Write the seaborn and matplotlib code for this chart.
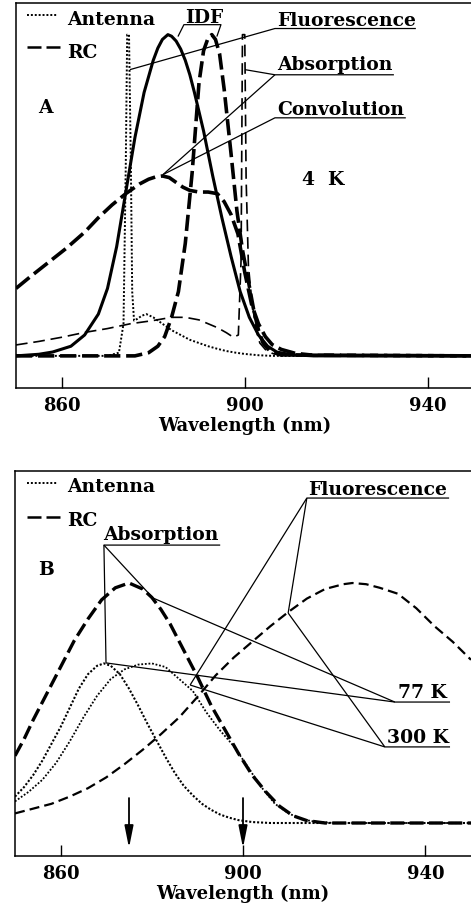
import matplotlib
matplotlib.use("Agg")
import matplotlib.pyplot as plt
import seaborn as sns

sns.set_style("ticks")
plt.rcParams["font.family"] = ["DejaVu Serif"]
plt.rcParams["font.weight"] = "bold"
plt.rcParams["axes.labelweight"] = "bold"
plt.rcParams["text.color"] = "black"
plt.rcParams["axes.labelcolor"] = "black"
plt.rcParams["xtick.color"] = "black"
plt.rcParams["xtick.labelcolor"] = "black"

# ---------------- Panel A (4 K) ----------------
a_ant_wl = [850, 860, 870, 872.5, 873.5, 874.0, 874.3, 874.7, 875.1, 875.4, 875.8, 876.5,
            877.5, 878.5, 880, 882, 884, 886, 888, 890, 892, 894, 896, 898, 900, 903, 906, 950]
a_ant = [0, 0, 0, 0.01, 0.1, 0.6, 1.0, 1.0, 0.6, 0.2, 0.11, 0.115,
         0.125, 0.13, 0.12, 0.1, 0.08, 0.065, 0.05, 0.04, 0.03, 0.022, 0.015, 0.01, 0.006, 0.002, 0, 0]

a_rc_wl = [850, 855, 860, 865, 870, 875, 880, 884, 887, 890, 892, 894, 896, 897.5, 898.6,
           899.2, 899.5, 900.0, 900.3, 900.8, 901.6, 902.5, 903.3, 904.5, 906, 908, 950]
a_rc = [0.034, 0.045, 0.058, 0.073, 0.085, 0.1, 0.11, 0.12, 0.12, 0.112, 0.1, 0.088, 0.072, 0.058, 0.065,
        0.3, 1.0, 1.0, 0.55, 0.28, 0.165, 0.08, 0.04, 0.02, 0.008, 0, 0]

a_idf_ant_wl = [850, 855, 858, 862, 865, 868, 870, 872, 874, 876, 878, 880, 881, 882, 883.2, 884,
                885, 886, 887, 888, 889, 891, 893, 895, 897, 899, 901, 903, 905, 907, 910, 915, 950]
a_idf_ant = [0, 0.005, 0.012, 0.03, 0.065, 0.13, 0.21, 0.34, 0.51, 0.68, 0.82, 0.92, 0.958, 0.985, 1.0, 0.995,
             0.98, 0.955, 0.92, 0.875, 0.82, 0.70, 0.56, 0.43, 0.31, 0.2, 0.12, 0.065, 0.03, 0.012, 0.004, 0, 0]

a_idf_rc_wl = [850, 876, 879, 881, 882.5, 884, 885.5, 887, 888.5, 890, 891, 892, 892.8, 893.6, 894.5,
               895.5, 897, 898.3, 899.5, 900.7, 902, 903, 904, 905.5, 908, 950]
a_idf_rc = [0, 0, 0.01, 0.03, 0.06, 0.12, 0.2, 0.35, 0.57, 0.85, 0.95, 0.99, 1.0, 0.985, 0.94,
            0.83, 0.63, 0.45, 0.33, 0.24, 0.14, 0.08, 0.04, 0.015, 0.003, 0]

a_conv_wl = [850, 853, 857, 861, 865, 868, 871, 874, 877, 879, 880.5, 882, 883.5, 885, 886.5, 888,
             890, 892, 894, 895.5, 897, 898.5, 900, 901.5, 903, 904.5, 906, 908, 911, 915, 950]
a_conv = [0.21, 0.245, 0.29, 0.335, 0.385, 0.43, 0.47, 0.505, 0.535, 0.55, 0.557, 0.56, 0.555, 0.54,
          0.525, 0.515, 0.51, 0.51, 0.505, 0.48, 0.44, 0.38, 0.26, 0.16, 0.1, 0.06, 0.035, 0.02,
          0.008, 0.002, 0]

# ---------------- Panel B (77 K / 300 K) ----------------
b_rc_abs_wl = [850, 852, 854, 857, 860, 863, 866, 869, 872, 875, 878, 880, 882, 884, 887, 890,
               893, 896, 899, 902, 905, 908, 911, 914, 918, 950]
b_rc_abs = [0.28, 0.35, 0.43, 0.54, 0.65, 0.76, 0.85, 0.93, 0.98, 1.0, 0.975, 0.94, 0.89, 0.83, 0.72, 0.61,
            0.49, 0.39, 0.29, 0.2, 0.13, 0.07, 0.03, 0.01, 0, 0]

b_rc_fl_wl = [850, 854, 858, 862, 866, 870, 874, 878, 882, 886, 890, 894, 898, 902, 906, 910, 914,
              918, 922, 924, 927, 930, 934, 938, 942, 946, 950]
b_rc_fl = [0.04, 0.06, 0.08, 0.11, 0.145, 0.19, 0.245, 0.305, 0.37, 0.44, 0.525, 0.615, 0.69, 0.755,
           0.82, 0.88, 0.935, 0.975, 0.995, 1.0, 0.995, 0.98, 0.955, 0.895, 0.82, 0.755, 0.68]

b_ant_abs_wl = [850, 852, 854, 856, 858, 860, 862, 864, 866, 868, 869.5, 871, 873, 875, 877, 879,
                881, 883, 885, 887, 889, 891, 893, 895, 897, 899, 902, 906, 950]
b_ant_abs = [0.11, 0.15, 0.2, 0.26, 0.33, 0.4, 0.48, 0.56, 0.62, 0.655, 0.665, 0.655, 0.62, 0.56, 0.49,
             0.415, 0.345, 0.275, 0.21, 0.155, 0.115, 0.08, 0.055, 0.035, 0.022, 0.012, 0.004, 0, 0]

b_ant_fl_wl = [850, 853, 856, 859, 862, 865, 868, 871, 874, 877, 880, 883, 886, 889, 892, 895,
               898, 901, 904, 907, 910, 913, 916, 920, 950]
b_ant_fl = [0.09, 0.13, 0.18, 0.25, 0.34, 0.44, 0.53, 0.6, 0.64, 0.66, 0.665, 0.65, 0.6, 0.55, 0.46, 0.385,
            0.32, 0.235, 0.15, 0.08, 0.04, 0.015, 0.005, 0, 0]

arrow_wl = [875, 900]
xticks = [860, 900, 940]

DOT = (0, (1, 1))
TXT = dict(fontsize=13.5, fontweight="bold", color="black")

fig = plt.figure(figsize=(4.71, 9.10), dpi=100)
W, H = 471.0, 910.0
axA = fig.add_axes([16 / W, 1 - 388 / H, 457.5 / W, 385.5 / H])
axB = fig.add_axes([15 / W, 1 - 856 / H, 456 / W, 385 / H])


def curve(ax, x, y, lw, ls):
    sns.lineplot(x=x, y=y, ax=ax, color="black", lw=lw, linestyle=ls,
                 errorbar=None, sort=False, legend=False)


def seg(ax, pts, lw=0.9):
    xs, ys = zip(*pts)
    ax.plot(xs, ys, color="black", lw=lw, solid_capstyle="butt", clip_on=False)


for ax in (axA, axB):
    ax.set_xlim(850, 950)
    ax.set_xticks(xticks)
    ax.set_yticks([])
    ax.tick_params(axis="x", direction="in", length=8, width=1.0, pad=6.5,
                   labelsize=13, bottom=True, top=False, colors="black")
    for s in ("left", "bottom", "top"):
        ax.spines[s].set_linewidth(1.1)
        ax.spines[s].set_color("black")
    ax.spines["right"].set_visible(False)
    ax.set_xlabel("Wavelength (nm)", fontsize=13, labelpad=1, color="black")
    ax.set_ylabel("")

axA.set_ylim(-0.1, 1.1)
axB.set_ylim(-0.1375, 1.4667)

# ---- Panel A curves ----
curve(axA, a_ant_wl, a_ant, 1.4, DOT)
curve(axA, a_rc_wl, a_rc, 1.2, (0, (7, 3.5)))
curve(axA, a_idf_ant_wl, a_idf_ant, 2.2, "-")
curve(axA, a_idf_rc_wl, a_idf_rc, 2.6, (0, (4.5, 1.6)))
curve(axA, a_conv_wl, a_conv, 2.6, (0, (4.8, 1.6)))

# legend A
axA.plot([852.4, 859.2], [1.062, 1.062], color="black", lw=1.4, linestyle=DOT)
axA.plot([852.4, 859.6], [0.96, 0.96], color="black", lw=1.8, linestyle=(0, (5.6, 2.0)))
axA.text(861.1, 1.031, "Antenna", ha="left", va="baseline", **TXT)
axA.text(861.1, 0.928, "RC", ha="left", va="baseline", **TXT)

axA.text(854.8, 0.757, "A", ha="left", va="baseline", **TXT)
axA.text(912.5, 0.533, "4  K", ha="left", va="baseline", **TXT)

# labels with underlines and leader lines
axA.text(886.9, 1.037, "IDF", ha="left", va="baseline", **TXT)
seg(axA, [(885.4, 0.994), (886.7, 1.031), (894.8, 1.031), (893.9, 0.994)])

axA.text(907.1, 1.028, "Fluorescence", ha="left", va="baseline", **TXT)
seg(axA, [(874.9, 0.891), (906.6, 1.019), (937.4, 1.019)])

axA.text(907.1, 0.891, "Absorption", ha="left", va="baseline", **TXT)
seg(axA, [(900.05, 0.891), (906.6, 0.875), (932.6, 0.875)])
seg(axA, [(882.1, 0.564), (906.6, 0.875)])

axA.text(907.1, 0.751, "Convolution", ha="left", va="baseline", **TXT)
seg(axA, [(882.1, 0.564), (906.6, 0.741), (935.2, 0.741)])

# ---- Panel B curves ----
curve(axB, b_ant_abs_wl, b_ant_abs, 1.5, (0, (1, 0.9)))
curve(axB, b_ant_fl_wl, b_ant_fl, 1.3, DOT)
curve(axB, b_rc_abs_wl, b_rc_abs, 2.4, (0, (4.2, 1.6)))
curve(axB, b_rc_fl_wl, b_rc_fl, 1.6, (0, (4.5, 2.3)))

# legend B
axB.plot([852.6, 859.4], [1.417, 1.417], color="black", lw=1.4, linestyle=DOT)
axB.plot([852.6, 859.8], [1.275, 1.275], color="black", lw=1.8, linestyle=(0, (5.6, 2.0)))
axB.text(861.4, 1.379, "Antenna", ha="left", va="baseline", **TXT)
axB.text(861.4, 1.2375, "RC", ha="left", va="baseline", **TXT)
axB.text(855.0, 1.033, "B", ha="left", va="baseline", **TXT)

axB.text(869.3, 1.179, "Absorption", ha="left", va="baseline", **TXT)
seg(axB, [(869.96, 0.667), (869.5, 1.158), (895.0, 1.158)])
seg(axB, [(869.5, 1.158), (880.26, 0.9375)])

axB.text(914.25, 1.367, "Fluorescence", ha="left", va="baseline", **TXT)
seg(axB, [(888.4, 0.575), (914.0, 1.354), (945.2, 1.354)])
seg(axB, [(909.9, 0.875), (914.0, 1.354)])

axB.text(934.0, 0.521, "77 K", ha="left", va="baseline", **TXT)
seg(axB, [(880.26, 0.9375), (933.3, 0.504), (945.4, 0.504)])
seg(axB, [(869.96, 0.667), (933.3, 0.504)])

axB.text(931.6, 0.333, "300 K", ha="left", va="baseline", **TXT)
seg(axB, [(888.4, 0.575), (931.1, 0.317), (945.4, 0.317)])
seg(axB, [(909.9, 0.875), (931.1, 0.317)])

for wl in arrow_wl:
    axB.annotate("", xy=(wl, -0.104), xytext=(wl, 0.104),
                 arrowprops=dict(arrowstyle="-|>,head_length=1.1,head_width=0.22",
                                 lw=1.3, color="black", mutation_scale=12, shrinkA=0, shrinkB=0))

fig.savefig("out.png", dpi=100)
